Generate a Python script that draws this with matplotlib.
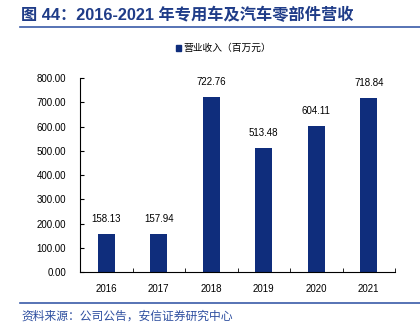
import matplotlib
matplotlib.use('Agg')
import matplotlib.pyplot as plt
from matplotlib.lines import Line2D
from matplotlib.patches import Rectangle
import numpy as np

plt.rcParams['font.family'] = ['Liberation Sans', 'Noto Sans CJK SC', 'DejaVu Sans']

years = ['2016', '2017', '2018', '2019', '2020', '2021']
revenue = [158.13, 157.94, 722.76, 513.48, 604.11, 718.84]
yticks = [0, 100, 200, 300, 400, 500, 600, 700, 800]

bar_color = '#0F2D7C'
title_color = '#1F3C88'

fig = plt.figure(figsize=(4.2, 3.24), dpi=100)
ax = fig.add_axes([0.1905, 0.1605, 0.75, 0.5985])

x = np.arange(len(years))
bars = ax.bar(x, revenue, width=0.33, color=bar_color)
for b, v in zip(bars, revenue):
    ax.text(b.get_x() + b.get_width() / 2, v + 40, f'{v:.2f}',
            ha='center', va='bottom', fontsize=7)

ax.set_xlim(-0.5, len(years) - 0.5)
ax.set_ylim(0, 800)
ax.set_yticks(yticks)
ax.set_yticklabels([f'{t:.2f}' for t in yticks], fontsize=7)
ax.set_xticks(x)
ax.set_xticklabels(years, fontsize=7)
ax.tick_params(axis='x', length=0, pad=9)
ax.tick_params(axis='y', direction='in', length=3, pad=10)
# piccoli tick tra le categorie
ax.set_xticks(np.arange(-0.5, len(years)), minor=True)
ax.tick_params(axis='x', which='minor', direction='in', length=3)
for s in ['top', 'right']:
    ax.spines[s].set_visible(False)

# legenda
fig.patches.append(Rectangle((0.419, 0.843), 0.012, 0.017,
                             transform=fig.transFigure, color=bar_color))
fig.text(0.437, 0.852, '营业收入（百万元）', fontsize=7, va='center',
         family=['Noto Sans CJK SC', 'DejaVu Sans'])

# titolo e riga
fig.text(0.05, 0.953, '图 44：2016-2021 年专用车及汽车零部件营收', fontsize=11.7,
         fontweight='bold', color=title_color, va='center',
         family=['Liberation Sans', 'Noto Sans CJK SC'])
fig.lines.append(Line2D([0.048, 1.0], [0.916, 0.916], transform=fig.transFigure,
                        color='#3A5BA8', lw=1.2))

# fonte
fig.lines.append(Line2D([0.048, 1.0], [0.064, 0.064], transform=fig.transFigure,
                        color='#3A5BA8', lw=1.2))
fig.text(0.05, 0.025, '资料来源：公司公告，安信证券研究中心', fontsize=8.5,
         style='italic', color='#2E4FA0', va='center',
         family=['Noto Sans CJK SC', 'DejaVu Sans'])

fig.savefig('out.png', dpi=100)
